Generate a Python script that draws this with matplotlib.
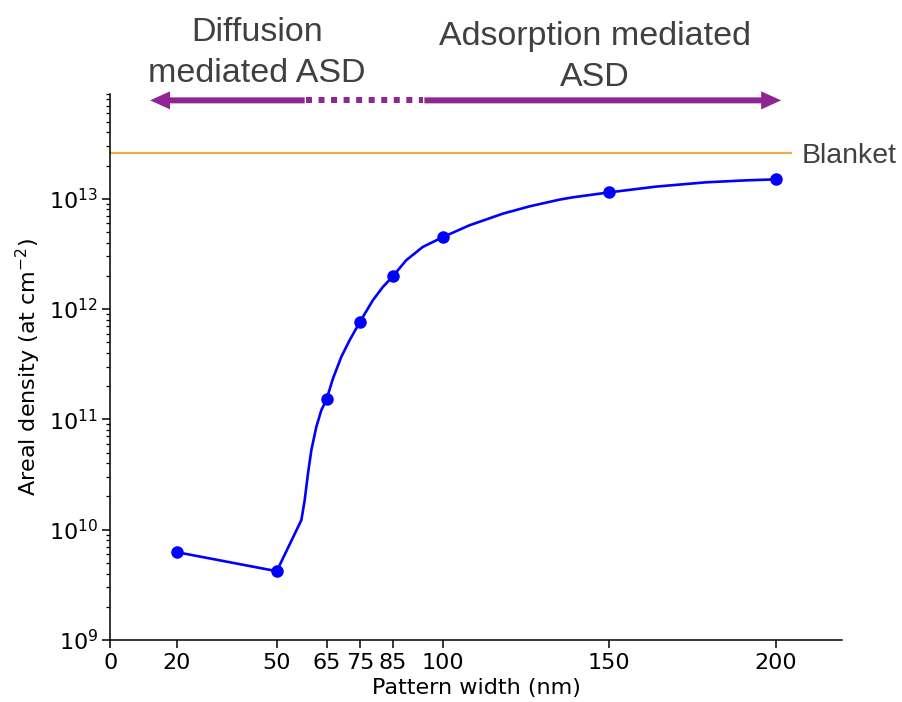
import matplotlib
matplotlib.use('Agg')
import matplotlib.pyplot as plt
import numpy as np

# measured points
widths = [20, 50, 65, 75, 85, 100, 150, 200]
density = [6.25e9, 4.2e9, 1.52e11, 7.64e11, 2.0e12, 4.5e12, 1.14e13, 1.5e13]

# guide curve as drawn in the figure (log10 of density)
curve_x = [20, 50, 57.4, 58.4, 59.4, 60.4, 61.9, 63.4, 65, 66.9, 69.4,
           71.9, 75, 78.9, 81.9, 85, 88.9, 93.9, 100, 107.9, 118, 126, 135,
           139, 150, 164, 179, 191.1, 200]
curve_logy = [9.796, 9.624, 10.087, 10.268, 10.510, 10.721, 10.932,
              11.083, 11.183, 11.370, 11.566, 11.717, 11.883, 12.080, 12.200,
              12.300, 12.442, 12.563, 12.653, 12.759, 12.865, 12.931, 12.992,
              13.013, 13.058, 13.110, 13.149, 13.167, 13.176]

blanket = 2.6e13
xticks = [0, 20, 50, 65, 75, 85, 100, 150, 200]

purple = '#8e2590'
grey = '#404040'

fig = plt.figure(figsize=(9.02, 7.02), dpi=100)
ax = fig.add_axes([0.1225, 0.0883, 0.811, 0.7785])

ax.plot(curve_x, 10 ** np.array(curve_logy), color='blue', lw=1.9, zorder=3)
ax.plot(widths, density, 'o', color='blue', ms=8, zorder=4)

ax.set_yscale('log')
ax.set_xlim(0, 220)
ax.set_ylim(1e9, 9e13)
ax.set_xticks(xticks)
ax.minorticks_on()
ax.xaxis.set_tick_params(which='minor', bottom=False)

ax.plot([0, 204.7], [blanket, blanket], color='#e8ae45', lw=1.6, clip_on=False)
ax.text(208, blanket, 'Blanket', fontsize=20.5, color=grey,
        family='Liberation Sans', va='center_baseline', ha='left')

for s in ['top', 'right']:
    ax.spines[s].set_visible(False)
for s in ['left', 'bottom']:
    ax.spines[s].set_linewidth(1.1)
ax.tick_params(which='major', length=5.5, width=1.1, labelsize=16)
ax.tick_params(which='minor', length=3.2, width=0.9)

ax.set_xlabel('Pattern width (nm)', fontsize=16)
ax.set_ylabel('Areal density (at cm$^{-2}$)', fontsize=16)

# regime arrows above the plot
ya = 7.8e13
head = dict(arrowstyle='simple,head_length=1.44,head_width=1.3,tail_width=0.43',
            mutation_scale=10, color=purple, lw=0, shrinkA=0, shrinkB=0)
ax.annotate('', xy=(11.9, ya), xytext=(58.4, ya), arrowprops=head,
            annotation_clip=False)
ax.annotate('', xy=(201.7, ya), xytext=(94.4, ya), arrowprops=head,
            annotation_clip=False)
ax.plot([58.9, 94.0], [ya, ya], color=purple, lw=4.3, dashes=(1, 1.1),
        dash_capstyle='butt', clip_on=False)

fig.text(257 / 902, 1 - 82 / 702, 'Diffusion\nmediated ASD', fontsize=24.5,
         color=grey, family='Liberation Sans', ha='center', va='baseline',
         multialignment='center', linespacing=1.4)
fig.text(595 / 902, 1 - 86 / 702, 'Adsorption mediated\nASD', fontsize=24.5,
         color=grey, family='Liberation Sans', ha='center', va='baseline',
         multialignment='center', linespacing=1.4)

fig.savefig('out.png', dpi=100)
